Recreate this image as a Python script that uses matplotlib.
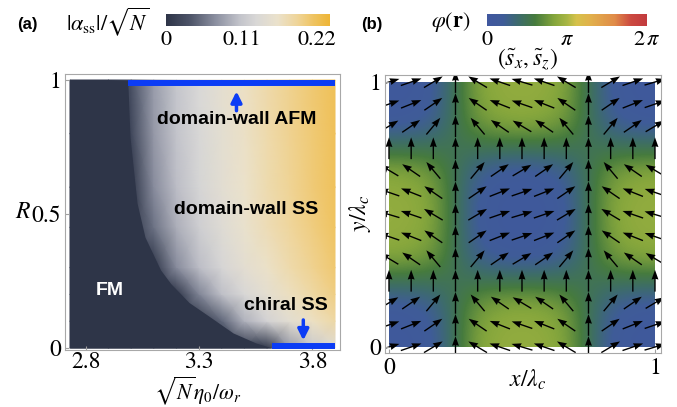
import numpy as np
import matplotlib
matplotlib.use("Agg")
import matplotlib.pyplot as plt
from matplotlib.colors import LinearSegmentedColormap
from matplotlib.patches import Rectangle

plt.rcParams['mathtext.fontset'] = 'stix'
plt.rcParams['font.family'] = 'STIXGeneral'

# --- panel (a): order parameter |alpha_ss|/sqrt(N) ---
eta_cols = [2.73, 2.9, 3.0, 3.1, 3.2, 3.3, 3.4, 3.5, 3.6, 3.7, 3.8, 3.9]
R_rows = [0.0, 0.1, 0.2, 0.3, 0.45, 0.6, 0.8, 1.0]
alpha_tab = [
    [0, 0, 0, 0, 0, 0, 0, 0, 0, 0.079, 0.114, 0.140],
    [0, 0, 0, 0, 0, 0, 0.045, 0.095, 0.125, 0.147, 0.167, 0.184],
    [0, 0, 0, 0, 0, 0.065, 0.104, 0.130, 0.151, 0.169, 0.185, 0.200],
    [0, 0, 0, 0, 0.069, 0.103, 0.128, 0.148, 0.165, 0.181, 0.195, 0.209],
    [0, 0, 0, 0.054, 0.093, 0.119, 0.140, 0.159, 0.175, 0.189, 0.202, 0.215],
    [0, 0, 0, 0.070, 0.103, 0.127, 0.146, 0.163, 0.179, 0.193, 0.206, 0.218],
    [0, 0, 0.019, 0.078, 0.108, 0.130, 0.149, 0.166, 0.181, 0.195, 0.207, 0.219],
    [0, 0, 0.029, 0.081, 0.110, 0.132, 0.151, 0.167, 0.182, 0.196, 0.208, 0.220],
]
# FM / superradiant boundary
R_bound = [0.0, 0.019, 0.056, 0.116, 0.17, 0.24, 0.291, 0.414, 0.541, 0.787, 1.0]
eta_bound = [3.622, 3.55, 3.45, 3.348, 3.255, 3.175, 3.13, 3.061, 3.026, 2.995, 2.985]
afm_range = [2.985, 3.9]
chiral_range = [3.62, 3.9]
alpha_ticks = [0, 0.11, 0.22]

# --- panel (b): spin texture, horizontal weights per column / row ---
wave_x = [1.0, 0.87, 0.5, 0.0, -0.5, -0.87, -1.0, -0.87, -0.5, 0.0, 0.5, 0.87, 1.0]
wave_y = [1.0, 0.87, 0.5, 0.0, -0.5, -0.87, -1.0, -0.87, -0.5, 0.0, 0.5, 0.87, 1.0]
sz_const = 0.3

cmap_a = LinearSegmentedColormap.from_list('alpha', [
    (0.0, '#2e3548'), (0.15, '#4f566a'), (0.3, '#8b8fa0'), (0.45, '#c3c4cb'),
    (0.55, '#d9d8d7'), (0.68, '#ebe2cc'), (0.8, '#efd59a'), (0.9, '#efc462'),
    (1.0, '#eeb535')])
cmap_phi = LinearSegmentedColormap.from_list('phi', [
    (0.0, '#40579f'), (0.1, '#3f5c98'), (0.2, '#3d6c6a'), (0.3, '#467b3e'),
    (0.42, '#85a63c'), (0.5, '#a8b644'), (0.56, '#d6c24b'), (0.65, '#e2b04c'),
    (0.8, '#e08b48'), (0.9, '#cc4a40'), (1.0, '#c23b3e')])
VMAX_A = 0.239

W, H = 677, 407
fig = plt.figure(figsize=(W / 100, H / 100), dpi=100)


def px_axes(x0, y0, x1, y1):
    return fig.add_axes([x0 / W, 1 - y1 / H, (x1 - x0) / W, (y1 - y0) / H])


def style_frame(ax):
    for s in ax.spines.values():
        s.set_color('#a8a8a8')
        s.set_linewidth(0.8)
    ax.tick_params(direction='in', length=3, color='#a0a0a0', labelsize=17, pad=3)


# ---------------- panel (a) ----------------
ax1 = px_axes(65, 74, 340, 350)
ax1.pcolormesh(eta_cols, R_rows, np.array(alpha_tab), shading='gouraud',
               cmap=cmap_a, vmin=0, vmax=VMAX_A)
ax1.fill_betweenx(R_bound, eta_cols[0], eta_bound, color=cmap_a(0.0), lw=0)
ax1.set_xlim(2.708, 3.922)
ax1.set_ylim(-0.0075, 1.0224)
ax1.set_xticks([2.8, 3.3, 3.8])
ax1.set_xticklabels(['2.8', '3.3', '3.8'])
ax1.set_yticks([0, 0.5, 1])
ax1.set_yticklabels(['0', '0.5', '1'])
style_frame(ax1)
ax1.tick_params(axis='x', pad=1)

blue = '#0b3cf5'
ax1.plot(afm_range, [0.99, 0.99], color=blue, lw=4.3, solid_capstyle='butt')
ax1.plot(chiral_range, [0.006, 0.006], color=blue, lw=4.3, solid_capstyle='butt')
ax1.annotate('', xy=(3.465, 0.968), xytext=(3.465, 0.875),
             arrowprops=dict(arrowstyle='-|>', color=blue, lw=2.5, mutation_scale=16))
ax1.annotate('', xy=(3.76, 0.018), xytext=(3.76, 0.115),
             arrowprops=dict(arrowstyle='-|>', color=blue, lw=2.5, mutation_scale=16))

sans = dict(family='Liberation Sans', weight='bold', fontsize=14, ha='center', va='center')
ax1.text(3.467, 0.851, 'domain-wall AFM', color='black', **sans)
ax1.text(3.507, 0.515, 'domain-wall SS', color='black', **sans)
ax1.text(3.684, 0.157, 'chiral SS', color='black', **sans)
ax1.text(2.904, 0.213, 'FM', color='white', **sans)

fig.text(23 / W, 1 - 212 / H, '$R$', fontsize=17, ha='center', va='center')
fig.text(198 / W, 1 - 399 / H, r'$\sqrt{N}\eta_0/\omega_r$', fontsize=15.5,
         ha='center', va='baseline')

# colorbar (a)
cb1 = px_axes(166, 14, 330, 26)
cb1.imshow(np.linspace(0, VMAX_A, 256)[None, :], aspect='auto', cmap=cmap_a,
           vmin=0, vmax=VMAX_A, extent=[0, VMAX_A, 0, 1])
cb1.set_yticks([])
cb1.set_xticks(alpha_ticks)
cb1.set_xticklabels(['0', '0.11', '0.22'])
cb1.tick_params(length=0, labelsize=16, pad=3)
for s in cb1.spines.values():
    s.set_visible(False)
fig.text(27 / W, 1 - 24 / H, '(a)', family='Liberation Sans', weight='bold',
         fontsize=12, ha='center', va='center')
fig.text(108 / W, 1 - 22 / H, r'$|\alpha_{\mathrm{ss}}|/\sqrt{N}$', fontsize=16,
         ha='center', va='center')

# ---------------- panel (b) ----------------
ax2 = px_axes(385, 75, 661, 353)
gx = np.arange(len(wave_x)) / (len(wave_x) - 1)
gy = np.arange(len(wave_y)) / (len(wave_y) - 1)
GX, GY = np.meshgrid(gx, gy)
U = np.outer(wave_y, wave_x)
V = np.full_like(U, sz_const)
phi = np.arctan2(V, U)
norm = np.hypot(U, V)
step = 1 / (len(wave_x) - 1)
im = ax2.imshow(phi, origin='lower', cmap=cmap_phi, vmin=0, vmax=2 * np.pi,
                extent=[-step / 2, 1 + step / 2, -step / 2, 1 + step / 2],
                interpolation='bicubic', aspect='auto')
im.set_clip_path(Rectangle((0, 0), 1, 1, transform=ax2.transData))
ax2.quiver(GX, GY, U / norm, V / norm, pivot='middle', angles='xy',
           scale_units='xy', scale=1 / 0.082, width=0.005, headwidth=5,
           headlength=7, headaxislength=6.5, color='black')
ax2.set_xlim(-0.015, 1.0226)
ax2.set_ylim(-0.0226, 1.0264)
ax2.set_xticks([0, 1])
ax2.set_xticklabels(['0', '1'])
ax2.set_yticks([0, 1])
ax2.set_yticklabels(['0', '1'])
style_frame(ax2)

fig.text(528 / W, 1 - 380 / H, r'$x/\lambda_c$', fontsize=17, ha='center', va='center')
fig.text(360 / W, 1 - 213 / H, r'$y/\lambda_c$', fontsize=17, ha='center',
         va='center', rotation=90)
fig.text(528 / W, 1 - 59 / H, r'$(\tilde{s}_x,\tilde{s}_z)$', fontsize=17,
         ha='center', va='center')

cb2 = px_axes(487, 14, 647, 26)
cb2.imshow(np.linspace(0, 2 * np.pi, 256)[None, :], aspect='auto', cmap=cmap_phi,
           vmin=0, vmax=2 * np.pi, extent=[0, 2 * np.pi, 0, 1])
cb2.set_yticks([])
cb2.set_xticks([0, np.pi, 2 * np.pi])
cb2.set_xticklabels(['$0$', r'$\pi$', r'$2\,\pi$'])
cb2.tick_params(length=0, labelsize=16, pad=3)
for s in cb2.spines.values():
    s.set_visible(False)
fig.text(372 / W, 1 - 24 / H, '(b)', family='Liberation Sans', weight='bold',
         fontsize=12, ha='center', va='center')
fig.text(451 / W, 1 - 22 / H, r'$\varphi(\mathbf{r})$', fontsize=16,
         ha='center', va='center')

fig.savefig('out.png', dpi=100)
